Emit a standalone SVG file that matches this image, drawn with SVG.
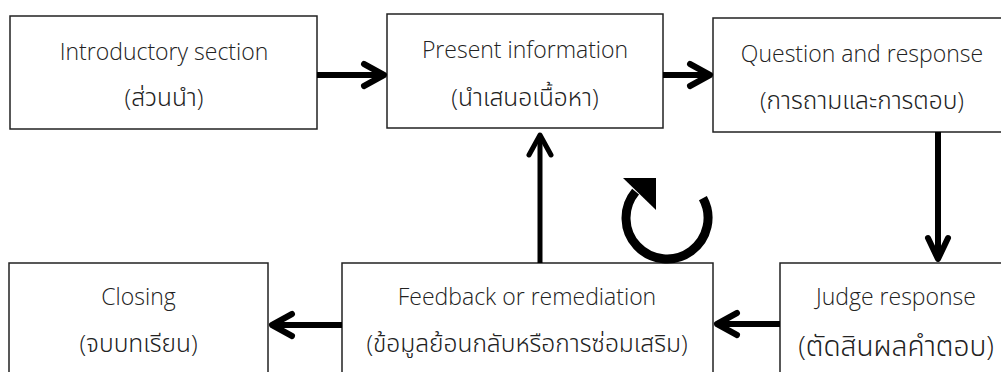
<svg xmlns="http://www.w3.org/2000/svg" width="1001" height="372" viewBox="0 0 1001 372">
<style>
.box{fill:#fff;stroke:#222;stroke-width:1.5}
.t{font-family:"Open Sans","Noto Sans Thai","Leelawadee UI","Noto Sans",sans-serif;font-weight:300;font-size:23px;fill:#222;text-anchor:middle}
.th{font-size:24.5px}
.c{fill:none;stroke:#000;stroke-width:6;stroke-linecap:butt}
.h{fill:none;stroke:#000;stroke-width:6;stroke-linecap:round;stroke-linejoin:round}
</style>
<rect width="1001" height="372" fill="#fff"/>
<g id="introductory">
<rect class="box" x="10" y="16" width="307" height="113"/>
<text class="t" x="164" y="60">Introductory section</text>
<text class="t th" x="164" y="106">(ส่วนนำ)</text>
</g>
<g id="present">
<rect class="box" x="387" y="14" width="276" height="114"/>
<text class="t" x="525" y="58">Present information</text>
<text class="t th" x="525" y="106">(นำเสนอเนื้อหา)</text>
</g>
<g id="question">
<rect class="box" x="713" y="18" width="299" height="114"/>
<text class="t" x="862" y="62">Question and response</text>
<text class="t th" x="862" y="109">(การถามและการตอบ)</text>
</g>
<g id="closing">
<rect class="box" x="9" y="263" width="259" height="120"/>
<text class="t" x="138.5" y="305">Closing</text>
<text class="t th" x="138.5" y="352">(จบบทเรียน)</text>
</g>
<g id="feedback">
<rect class="box" x="342" y="263" width="371" height="120"/>
<text class="t" x="527" y="305">Feedback or remediation</text>
<text class="t th" x="527" y="352">(ข้อมูลย้อนกลับหรือการซ่อมเสริม)</text>
</g>
<g id="judge">
<rect class="box" x="780" y="263" width="232" height="120"/>
<text class="t" x="896" y="305">Judge response</text>
<text class="t" x="896" y="356" style="font-size:28px">(ตัดสินผลคำตอบ)</text>
</g>
<g id="connectors">
<line class="c" x1="317" y1="75" x2="383" y2="75"/>
<polyline class="h" points="364,64 384,75 364,86"/>
<line class="c" x1="663" y1="75" x2="709" y2="75"/>
<polyline class="h" points="690,64 710,75 690,86"/>
<line class="c" x1="938" y1="132" x2="938" y2="258"/>
<polyline class="h" points="928,238 938,259 948,238"/>
<line class="c" x1="540" y1="263" x2="540" y2="137" style="stroke-width:5"/>
<polyline class="h" points="529,155 540,135 551,155" style="stroke-width:5"/>
<line class="c" x1="342" y1="325" x2="273" y2="325"/>
<polyline class="h" points="292,314 272,325 292,336"/>
<line class="c" x1="780" y1="324" x2="718" y2="324"/>
<polyline class="h" points="737,313 717,324 737,335"/>
<path d="M702.9,198.1 A41,41 0 1 1 635.6,191.6" fill="none" stroke="#000" stroke-width="9"/>
<polygon points="623,178 656,178 656,210" fill="#000"/>
</g>
</svg>
